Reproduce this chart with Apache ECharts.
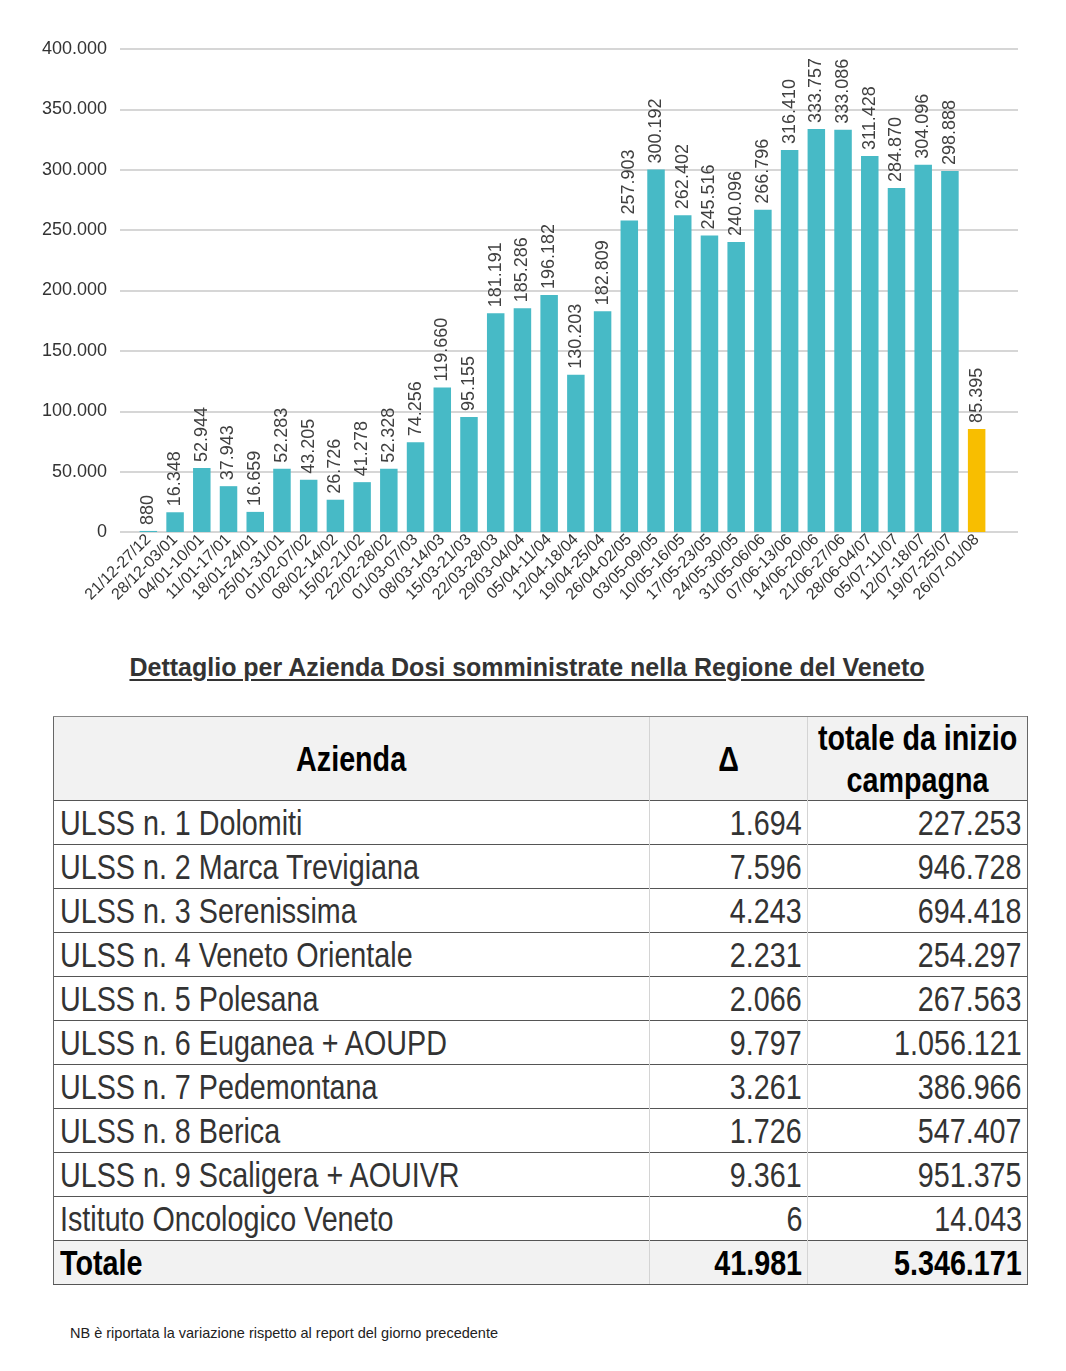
<!DOCTYPE html>
<html>
<head>
<meta charset="utf-8">
<script src="https://cdn.jsdelivr.net/npm/echarts@6/dist/echarts.min.js"></script>
<style>
  html, body { margin: 0; padding: 0; background: #ffffff; }
  body { width: 1066px; height: 1371px; position: relative; overflow: hidden; font-family: "Liberation Sans", Arial, sans-serif; }
  #chart { position: absolute; left: 0; top: 0; width: 1066px; height: 640px; }
  #title { position: absolute; left: 0; width: 1054px; top: 653px; text-align: center; font-weight: bold; font-size: 25px; color: #333; text-decoration: underline; text-underline-offset: 3px; }
  #tbl { position: absolute; left: 53px; top: 716px; width: 974px; border-collapse: collapse; font-family: "Liberation Sans", Arial, sans-serif; color: #333; table-layout: fixed; }
  #tbl td { height: 43px; font-size: 35px; padding: 0 5px 0 6px; border-top: 1.5px solid #555; border-left: 1px solid #d4d4d4; white-space: nowrap; line-height: 1; overflow: visible; }
  #tbl td span { display: inline-block; transform: scaleX(0.82); transform-origin: left center; }
  #tbl td.num { text-align: right; }
  #tbl td.num span { transform-origin: right center; }
  #tbl td:first-child { border-left: 1.5px solid #666; }
  #tbl td:last-child { border-right: 1.5px solid #666; }
  #tbl tr.head td { height: 83px; font-weight: bold; text-align: center; background: #f2f2f2; border-top: 1.5px solid #888; line-height: 1.18; color: #000; padding: 0; }
  #tbl tr.head td span { transform-origin: center center; margin: 0 -60px; }
  #tbl tr.tot td { font-weight: bold; background: #f2f2f2; border-bottom: 1.5px solid #555; color: #000; }
  #note { position: absolute; left: 70px; top: 1325px; font-size: 14.5px; color: #222; }
</style>
</head>
<body>
<div id="chart"></div>
<div id="title">Dettaglio per Azienda Dosi somministrate nella Regione del Veneto</div>
<table id="tbl"></table>
<div id="note">NB è riportata la variazione rispetto al report del giorno precedente</div>
<script>
const categories = ["21/12-27/12","28/12-03/01","04/01-10/01","11/01-17/01","18/01-24/01","25/01-31/01","01/02-07/02","08/02-14/02","15/02-21/02","22/02-28/02","01/03-07/03","08/03-14/03","15/03-21/03","22/03-28/03","29/03-04/04","05/04-11/04","12/04-18/04","19/04-25/04","26/04-02/05","03/05-09/05","10/05-16/05","17/05-23/05","24/05-30/05","31/05-06/06","07/06-13/06","14/06-20/06","21/06-27/06","28/06-04/07","05/07-11/07","12/07-18/07","19/07-25/07","26/07-01/08"];
const doses = [880,16348,52944,37943,16659,52283,43205,26726,41278,52328,74256,119660,95155,181191,185286,196182,130203,182809,257903,300192,262402,245516,240096,266796,316410,333757,333086,311428,284870,304096,298888,85395];

const tableHeader = ["Azienda", "Δ", "totale da inizio<br>campagna"];
const aziende = ["ULSS n. 1 Dolomiti","ULSS n. 2 Marca Trevigiana","ULSS n. 3 Serenissima","ULSS n. 4 Veneto Orientale","ULSS n. 5 Polesana","ULSS n. 6 Euganea + AOUPD","ULSS n. 7 Pedemontana","ULSS n. 8 Berica","ULSS n. 9 Scaligera + AOUIVR","Istituto Oncologico Veneto"];
const delta = [1694,7596,4243,2231,2066,9797,3261,1726,9361,6];
const totale = [227253,946728,694418,254297,267563,1056121,386966,547407,951375,14043];
const totalLabel = "Totale";
const totalDelta = 41981;
const totalTotale = 5346171;

const TEAL = "#47bac6";
const YELLOW = "#f8be00";

function fmt(v) { return String(v).replace(/\B(?=(\d{3})+(?!\d))/g, "."); }

// table
(function () {
  const t = document.getElementById("tbl");
  const s = x => '<span>' + x + '</span>';
  let html = '<colgroup><col style="width:596px"><col style="width:158px"><col style="width:220px"></colgroup>';
  html += '<tr class="head">' + tableHeader.map(h => '<td>' + s(h) + '</td>').join('') + '</tr>';
  for (let i = 0; i < aziende.length; i++) {
    html += '<tr><td>' + s(aziende[i]) + '</td><td class="num">' + s(fmt(delta[i])) + '</td><td class="num">' + s(fmt(totale[i])) + '</td></tr>';
  }
  html += '<tr class="tot"><td>' + s(totalLabel) + '</td><td class="num">' + s(fmt(totalDelta)) + '</td><td class="num">' + s(fmt(totalTotale)) + '</td></tr>';
  t.innerHTML = html;
})();

const chart = echarts.init(document.getElementById("chart"), null, { renderer: "canvas" });
const FONT = "Liberation Sans";
chart.setOption({
  animation: false,
  grid: [
    { left: 120, right: 48, top: 49, height: 483 },
    { left: 135, width: 855, top: 49, height: 483 }
  ],
  xAxis: [
    { gridIndex: 0, type: "value", min: 0, max: 1, show: false },
    { gridIndex: 1, type: "category", data: categories,
      axisLine: { show: false }, axisTick: { show: false },
      axisLabel: { interval: 0, rotate: 45, fontSize: 16, color: "#333", fontFamily: FONT, margin: 5, padding: [18, 0, 0, 0] } }
  ],
  yAxis: [
    { gridIndex: 0, type: "value", min: 0, max: 400000, interval: 50000,
      axisLine: { show: false }, axisTick: { show: false },
      axisLabel: { fontSize: 18, color: "#333", fontFamily: FONT, margin: 13, formatter: v => fmt(v) },
      splitLine: { lineStyle: { color: "#c9c9c9", width: 1.5 } } },
    { gridIndex: 1, type: "value", min: 0, max: 400000, show: false, splitLine: { show: false } }
  ],
  series: [{
    type: "bar",
    xAxisIndex: 1, yAxisIndex: 1,
    barWidth: 17.5,
    data: doses.map((v, i) => i === doses.length - 1 ? { value: v, itemStyle: { color: YELLOW } } : v),
    itemStyle: { color: TEAL },
    label: { show: true, position: "top", rotate: 90, align: "left", verticalAlign: "middle", distance: 6,
      fontSize: 18, color: "#404040", fontFamily: FONT, formatter: p => fmt(p.value) }
  }]
});
</script>
</body>
</html>
